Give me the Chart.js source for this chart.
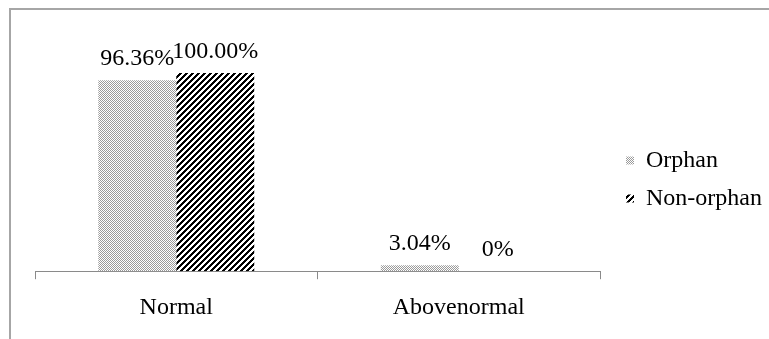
<!DOCTYPE html>
<html>
<head>
<meta charset="utf-8">
<script src="https://cdn.jsdelivr.net/npm/chart.js@4.4.1/dist/chart.umd.min.js"></script>
<style>
  html, body { margin: 0; padding: 0; background: #fff; }
  #wrap { position: relative; width: 769px; height: 339px; overflow: hidden; }
  #frame { position: absolute; left: 9px; top: 8px; width: 800px; height: 400px;
           border-left: 2px solid #a6a6a6; border-top: 2px solid #a6a6a6; }
  #chart { position: absolute; left: 0; top: 0; }
</style>
</head>
<body>
<div id="wrap">
  <div id="frame"></div>
  <canvas id="chart" width="769" height="339"></canvas>
</div>
<script>
const categories = ['Normal', 'Abovenormal'];
const seriesNames = ['Orphan', 'Non-orphan'];
const orphanValues = [96.36, 3.04];
const nonOrphanValues = [100.0, 0];

const FONT = '"Liberation Serif", "Times New Roman", serif';

function dotPattern() {
  const c = document.createElement('canvas');
  c.width = 2; c.height = 2;
  const g = c.getContext('2d');
  g.fillStyle = '#fff';
  g.fillRect(0, 0, 2, 2);
  g.fillStyle = '#9a9a9a';
  g.fillRect(0, 0, 1, 1);
  g.fillRect(1, 1, 1, 1);
  return g.createPattern(c, 'repeat');
}

function stripePattern() {
  const n = 6;
  const c = document.createElement('canvas');
  c.width = n; c.height = n;
  const g = c.getContext('2d');
  const img = g.createImageData(n, n);
  for (let y = 0; y < n; y++) {
    for (let x = 0; x < n; x++) {
      const on = ((x + y) % n) < 3;
      const i = (y * n + x) * 4;
      const v = on ? 0 : 255;
      img.data[i] = v; img.data[i + 1] = v; img.data[i + 2] = v; img.data[i + 3] = 255;
    }
  }
  g.putImageData(img, 0, 0);
  return g.createPattern(c, 'repeat');
}

const fmt = (v) => (v === 0 ? '0%' : v.toFixed(2) + '%');

const valueLabels = {
  id: 'valueLabels',
  afterDatasetsDraw(chart) {
    const ctx = chart.ctx;
    ctx.save();
    ctx.font = '24px ' + FONT;
    ctx.fillStyle = '#000';
    ctx.textAlign = 'center';
    ctx.textBaseline = 'alphabetic';
    chart.data.datasets.forEach((ds, di) => {
      chart.getDatasetMeta(di).data.forEach((bar, i) => {
        ctx.fillText(fmt(ds.data[i]), bar.x, bar.y - 15);
      });
    });
    ctx.restore();
  }
};

// leave a gap between plot and legend, and nudge the legend like the original
const legendNudge = {
  id: 'legendNudge',
  beforeLayout(chart) {
    const lg = chart.legend;
    if (lg && !lg._nudged) {
      const fit = lg.fit.bind(lg);
      lg.fit = function () { fit(); this.width += 9; };
      lg._nudged = true;
    }
  },
  afterLayout(chart) {
    const lg = chart.legend;
    if (!lg) return;
    lg.left += 12; lg.right += 12;
    lg.top -= 25; lg.bottom -= 25;
  }
};

const ctx = document.getElementById('chart').getContext('2d');
new Chart(ctx, {
  type: 'bar',
  data: {
    labels: categories,
    datasets: [
      { label: seriesNames[0], data: orphanValues, backgroundColor: dotPattern(), borderWidth: 0 },
      { label: seriesNames[1], data: nonOrphanValues, backgroundColor: stripePattern(), borderWidth: 0 }
    ]
  },
  options: {
    responsive: false,
    animation: false,
    layout: { padding: { left: 35, top: 73, right: 0, bottom: 3 } },
    datasets: { bar: { categoryPercentage: 0.552, barPercentage: 1.0 } },
    plugins: {
      legend: {
        position: 'right',
        align: 'center',
        labels: {
          boxWidth: 8,
          boxHeight: 8,
          padding: 14,
          color: '#000',
          font: { family: FONT, size: 24 }
        }
      },
      tooltip: { enabled: false }
    },
    scales: {
      y: { display: false, min: 0, max: 100 },
      x: {
        offset: true,
        border: { display: true, color: '#8a8a8a', width: 1 },
        grid: { offset: true, drawOnChartArea: false, drawTicks: true, tickLength: 8, color: '#8a8a8a' },
        ticks: { color: '#000', padding: 14, font: { family: FONT, size: 24 } }
      }
    }
  },
  plugins: [valueLabels, legendNudge]
});
</script>
</body>
</html>
